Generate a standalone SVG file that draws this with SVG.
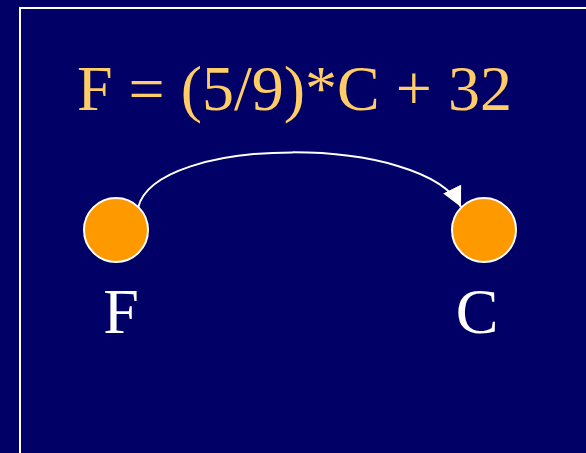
<svg xmlns="http://www.w3.org/2000/svg" width="586" height="453" viewBox="0 0 586 453">
<style>
.node{fill:#FF9900;stroke:#FFFFFF;stroke-width:2}
.lbl{font-family:"Liberation Serif","Times New Roman",serif;font-size:64px;fill:#FFFFFF;text-anchor:middle}
.eq{font-family:"Liberation Serif","Times New Roman",serif;font-size:64px;fill:#FFCC66}
.edge{fill:none;stroke:#FFFFFF;stroke-width:2}
</style>
<defs>
<marker id="arr" viewBox="0 0 10 10" refX="10" refY="5" markerWidth="20" markerHeight="20" markerUnits="userSpaceOnUse" orient="auto">
<path d="M0,0 L10,5 L0,10 z" fill="#FFFFFF"/>
</marker>
</defs>
<rect x="0" y="0" width="586" height="453" fill="#000066"/>
<path d="M20,453 L20,8 L586,8" fill="none" stroke="#FFFFFF" stroke-width="2"/>
<text class="eq" x="77" y="110">F = (5/9)*C + 32</text>
<g id="connectors">
<path class="edge" d="M138,208 C155,134 425,134 461,207" marker-end="url(#arr)"/>
</g>
<g id="node-F">
<circle class="node" cx="116" cy="230" r="32"/>
<text class="lbl" x="121" y="333">F</text>
</g>
<g id="node-C">
<circle class="node" cx="484" cy="230" r="32"/>
<text class="lbl" x="477" y="333">C</text>
</g>
</svg>
